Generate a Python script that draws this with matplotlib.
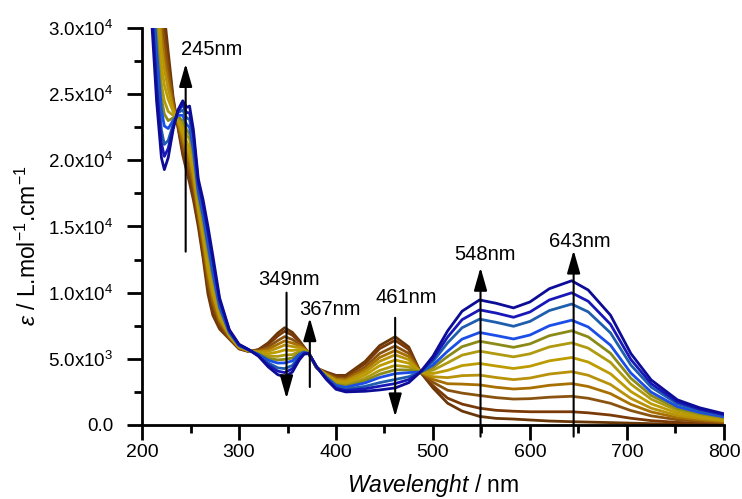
import matplotlib
matplotlib.use('Agg')
import matplotlib.pyplot as plt
from matplotlib.ticker import MultipleLocator, FuncFormatter

plt.rcParams['font.family'] = ['Liberation Sans', 'DejaVu Sans']
plt.rcParams['mathtext.fontset'] = 'custom'
plt.rcParams['mathtext.rm'] = 'Liberation Sans'
plt.rcParams['mathtext.it'] = 'Liberation Sans:italic'
plt.rcParams['mathtext.default'] = 'regular'

# wavelength grid (nm)
wavelength = [205, 210, 215, 220, 223, 227, 232, 237, 242, 246,
              249, 253, 258, 263, 268, 273, 280, 290, 300, 310,
              320, 330, 340, 347, 355, 362, 367, 372, 380, 390,
              400, 410, 430, 445, 461, 475, 487, 500, 515, 530,
              548, 565, 583, 600, 620, 643, 660, 683, 704, 725,
              752, 775, 800]

# epsilon in 10^3 L/mol/cm, first spectrum (brown) to last one (dark blue)
eps_00 = [48, 44, 38.5, 33, 31, 28.2, 24.8, 22.5, 20.4, 19.2,
          18.3, 17.0, 15.0, 12.6, 9.9, 8.3, 7.25, 6.5, 5.75, 5.55,
          5.7, 6.2, 6.95, 7.35, 7.0, 6.4, 5.9, 5.4, 4.3, 4.0,
          3.75, 3.75, 4.8, 6.0, 6.67, 5.9, 4.0, 2.8, 1.65, 1.05,
          0.65, 0.5, 0.45, 0.38, 0.3, 0.25, 0.22, 0.18, 0.14, 0.1,
          0.07, 0.05, 0.03]
eps_01 = [47.2, 43.1, 37.5, 32.1, 30.2, 27.6, 24.6, 22.6, 20.7, 19.5,
          18.7, 17.4, 15.3, 12.9, 10.3, 8.6, 7.4, 6.55, 5.77, 5.56,
          5.67, 6.07, 6.73, 7.09, 6.79, 6.3, 5.86, 5.4, 4.31, 3.96,
          3.68, 3.66, 4.64, 5.77, 6.4, 5.71, 4.0, 2.97, 2.03, 1.58,
          1.27, 1.11, 1.04, 1.0, 1.0, 1.0, 0.92, 0.75, 0.51, 0.33,
          0.2, 0.14, 0.09]
eps_02 = [45.8, 41.6, 36.0, 30.7, 28.9, 26.8, 24.4, 22.7, 21.1, 20.1,
          19.3, 18.0, 15.7, 13.4, 10.8, 9.1, 7.7, 6.6, 5.81, 5.58,
          5.61, 5.88, 6.38, 6.68, 6.46, 6.13, 5.8, 5.4, 4.32, 3.9,
          3.56, 3.52, 4.39, 5.4, 5.97, 5.41, 4.0, 3.23, 2.63, 2.41,
          2.23, 2.07, 1.96, 1.99, 2.1, 2.17, 2.02, 1.64, 1.09, 0.69,
          0.4, 0.28, 0.18]
eps_03 = [44.8, 40.4, 34.7, 29.5, 27.8, 26.0, 24.1, 22.9, 21.5, 20.5,
          19.9, 18.4, 16.0, 13.8, 11.3, 9.5, 7.9, 6.7, 5.84, 5.59,
          5.57, 5.71, 6.1, 6.35, 6.19, 6.0, 5.75, 5.4, 4.33, 3.85,
          3.47, 3.41, 4.19, 5.1, 5.63, 5.17, 4.0, 3.45, 3.12, 3.09,
          3.03, 2.85, 2.72, 2.79, 3.0, 3.13, 2.91, 2.37, 1.56, 0.99,
          0.56, 0.39, 0.25]
eps_04 = [43.7, 39.2, 33.5, 28.5, 26.9, 25.4, 23.9, 23.0, 21.9, 20.9,
          20.4, 18.9, 16.3, 14.2, 11.7, 9.9, 8.1, 6.75, 5.87, 5.6,
          5.52, 5.56, 5.83, 6.04, 5.93, 5.87, 5.7, 5.4, 4.34, 3.8,
          3.38, 3.31, 4.0, 4.81, 5.3, 4.94, 4.0, 3.65, 3.58, 3.73,
          3.77, 3.59, 3.43, 3.55, 3.85, 4.03, 3.76, 3.06, 2.01, 1.27,
          0.72, 0.49, 0.32]
eps_05 = [42.5, 37.9, 32.1, 27.2, 25.7, 24.6, 23.7, 23.1, 22.3, 21.4,
          20.9, 19.4, 16.6, 14.6, 12.2, 10.4, 8.3, 6.8, 5.91, 5.62,
          5.47, 5.38, 5.52, 5.67, 5.63, 5.72, 5.65, 5.4, 4.35, 3.75,
          3.27, 3.18, 3.78, 4.48, 4.91, 4.67, 4.0, 3.89, 4.13, 4.49,
          4.65, 4.46, 4.27, 4.44, 4.85, 5.1, 4.76, 3.87, 2.53, 1.6,
          0.9, 0.62, 0.4]
eps_06 = [41.3, 36.4, 30.7, 25.8, 24.5, 23.7, 23.4, 23.2, 22.7, 21.9,
          21.6, 20.0, 17.0, 15.1, 12.8, 10.8, 8.6, 6.9, 5.95, 5.63,
          5.42, 5.19, 5.19, 5.28, 5.32, 5.56, 5.59, 5.4, 4.36, 3.69,
          3.16, 3.05, 3.54, 4.12, 4.5, 4.39, 4.0, 4.14, 4.7, 5.28,
          5.58, 5.37, 5.15, 5.38, 5.9, 6.21, 5.81, 4.73, 3.09, 1.95,
          1.09, 0.75, 0.49]
eps_07 = [40.3, 35.3, 29.5, 24.7, 23.5, 23.0, 23.2, 23.3, 23.0, 22.3,
          22.0, 20.4, 17.3, 15.4, 13.2, 11.2, 8.8, 6.95, 5.98, 5.65,
          5.38, 5.04, 4.92, 4.96, 5.06, 5.43, 5.55, 5.4, 4.36, 3.65,
          3.07, 2.94, 3.35, 3.84, 4.17, 4.16, 4.0, 4.35, 5.17, 5.92,
          6.33, 6.11, 5.87, 6.13, 6.75, 7.12, 6.66, 5.42, 3.53, 2.23,
          1.25, 0.86, 0.56]
eps_08 = [39.4, 34.3, 28.4, 23.8, 22.6, 22.4, 23.0, 23.4, 23.4, 22.7,
          22.5, 20.8, 17.6, 15.8, 13.6, 11.5, 8.9, 7.0, 6.0, 5.66,
          5.34, 4.9, 4.68, 4.69, 4.84, 5.32, 5.5, 5.4, 4.37, 3.6,
          2.99, 2.85, 3.18, 3.59, 3.88, 3.96, 4.0, 4.53, 5.57, 6.49,
          6.99, 6.76, 6.5, 6.8, 7.5, 7.92, 7.41, 6.03, 3.93, 2.48,
          1.39, 0.95, 0.62]
eps_09 = [38.0, 32.7, 26.8, 22.3, 21.2, 21.5, 22.7, 23.6, 23.8, 23.2,
          23.1, 21.4, 18.0, 16.3, 14.2, 12.1, 9.2, 7.1, 6.04, 5.68,
          5.28, 4.7, 4.32, 4.26, 4.5, 5.15, 5.44, 5.4, 4.38, 3.54,
          2.87, 2.71, 2.92, 3.2, 3.44, 3.65, 4.0, 4.8, 6.2, 7.35,
          8.0, 7.76, 7.46, 7.83, 8.65, 9.14, 8.55, 6.96, 4.53, 2.86,
          1.6, 1.09, 0.71]
eps_10 = [37.0, 31.6, 25.7, 21.3, 20.3, 20.9, 22.5, 23.7, 24.2, 23.6,
          23.6, 21.9, 18.3, 16.6, 14.6, 12.4, 9.4, 7.15, 6.07, 5.69,
          5.24, 4.55, 4.07, 3.96, 4.25, 5.03, 5.4, 5.4, 4.39, 3.5,
          2.79, 2.61, 2.74, 2.93, 3.13, 3.43, 4.0, 5.0, 6.64, 7.96,
          8.7, 8.46, 8.14, 8.54, 9.45, 9.99, 9.35, 7.61, 4.95, 3.12,
          1.74, 1.19, 0.78]
eps_11 = [36, 30.5, 24.5, 20.2, 19.3, 20.2, 22.3, 23.8, 24.5, 24.0,
          24.1, 22.3, 18.6, 17.0, 15.0, 12.8, 9.6, 7.2, 6.1, 5.7,
          5.2, 4.4, 3.8, 3.65, 4.0, 4.9, 5.35, 5.4, 4.4, 3.45,
          2.7, 2.5, 2.55, 2.65, 2.8, 3.2, 4.0, 5.2, 7.1, 8.6,
          9.45, 9.2, 8.85, 9.3, 10.3, 10.9, 10.2, 8.3, 5.4, 3.4,
          1.9, 1.3, 0.85]

spectra = [eps_00, eps_01, eps_02, eps_03, eps_04, eps_05,
           eps_06, eps_07, eps_08, eps_09, eps_10, eps_11]

# brown -> yellow -> olive -> blue
colours = ['#6a3808', '#7a3a08', '#8a5410', '#a87000', '#b8920a', '#bc9c00',
           '#b09a10', '#8a8a18', '#1a4ee6', '#1e5eac', '#1818b8', '#0c0c96']

# peak labels and arrows
peaks = ['245nm', '349nm', '367nm', '461nm', '548nm', '643nm']
label_x = [272, 352, 394, 472, 554, 651]
label_y = [27970, 10580, 8310, 9200, 12470, 13480]
arrow_x = [245, 349, 373, 461, 549, 645]
arrow_from = [13100, 10000, 2870, 8100, -880, -880]
arrow_to = [27300, 2000, 8090, 630, 11900, 13200]

fig = plt.figure(figsize=(7.42, 4.99), dpi=100)
ax = fig.add_axes([0.1914, 0.1483, 0.7843, 0.7956])

for spec, c in zip(spectra, colours):
    ax.plot(wavelength, [v * 1000 for v in spec], color=c, lw=2.0)

for name, lx, ly, xa, a0, a1 in zip(peaks, label_x, label_y, arrow_x, arrow_from, arrow_to):
    ax.annotate('', xy=(xa, a1), xytext=(xa, a0), annotation_clip=False,
                arrowprops=dict(arrowstyle='-|>,head_length=0.7,head_width=0.2',
                                mutation_scale=20, lw=1.5, color='black',
                                shrinkA=0, shrinkB=0, clip_on=False),
                zorder=5)
    ax.text(lx, ly, name, ha='center', va='baseline', fontsize=14.5, zorder=6)

ax.set_xlim(200, 800)
ax.set_ylim(0, 30000)
ax.xaxis.set_major_locator(MultipleLocator(100))
ax.xaxis.set_minor_locator(MultipleLocator(50))
ax.yaxis.set_major_locator(MultipleLocator(5000))
ax.yaxis.set_minor_locator(MultipleLocator(2500))


def sci(v, pos):
    if v == 0:
        return '0.0'
    e = 0
    m = v
    while m >= 10:
        m /= 10
        e += 1
    return '%.1fx10$^{%d}$' % (m, e)


ax.yaxis.set_major_formatter(FuncFormatter(sci))

for s in ['top', 'right']:
    ax.spines[s].set_visible(False)
for s in ['left', 'bottom']:
    ax.spines[s].set_linewidth(2)

ax.tick_params(which='major', direction='out', length=11, width=2, labelsize=14)
ax.tick_params(which='minor', direction='out', length=6, width=2)
ax.tick_params(axis='x', which='major', pad=3)
ax.tick_params(axis='y', which='major', pad=9.5, labelsize=13.5)

ax.set_xlabel(r'$\it{Wavelenght}$ / nm', fontsize=16.5)
ax.set_ylabel(r'$\it{\varepsilon}$ / L.mol$^{-1}$.cm$^{-1}$', fontsize=16.5)
ax.xaxis.set_label_coords(0.5, -0.118)
ax.yaxis.set_label_coords(-0.174, 0.452)

fig.savefig('out.png', dpi=100)
